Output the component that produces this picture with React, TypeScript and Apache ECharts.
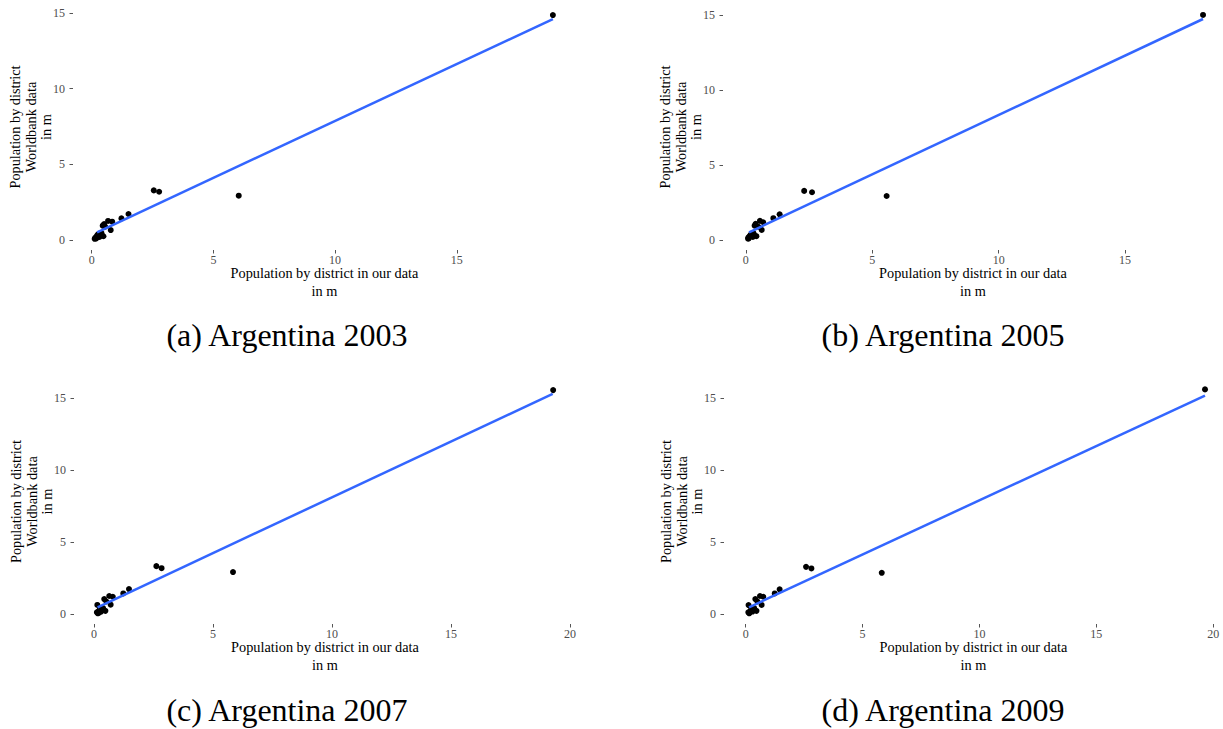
import React, { useEffect, useRef } from "react";
import * as echarts from "echarts";

// ---- data (millions) ----
const xA = [18.95, 6.04, 2.55, 2.77, 1.51, 1.22, 0.84, 0.67, 0.51, 0.78, 0.55, 0.45, 0.40, 0.33, 0.30, 0.48, 0.25, 0.22, 0.26, 0.19, 0.15, 0.32, 0.36, 0.12];
const yA = [14.87, 2.93, 3.28, 3.19, 1.72, 1.43, 1.21, 1.26, 1.06, 0.66, 0.88, 0.95, 0.45, 0.30, 0.42, 0.25, 0.35, 0.30, 0.22, 0.11, 0.16, 0.20, 0.38, 0.08];
const xB = [18.08, 5.57, 2.31, 2.62, 1.34, 1.09, 0.69, 0.56, 0.39, 0.63, 0.50, 0.35, 0.30, 0.27, 0.24, 0.42, 0.20, 0.18, 0.14, 0.12, 0.10, 0.28, 0.32, 0.09];
const yB = [15.0, 2.93, 3.27, 3.18, 1.71, 1.45, 1.18, 1.27, 1.07, 0.67, 0.88, 0.95, 0.45, 0.30, 0.42, 0.25, 0.35, 0.30, 0.22, 0.11, 0.16, 0.20, 0.38, 0.08];
const xC = [19.29, 5.84, 2.62, 2.84, 1.47, 1.23, 0.79, 0.64, 0.43, 0.70, 0.14, 0.52, 0.38, 0.33, 0.28, 0.48, 0.24, 0.22, 0.26, 0.18, 0.16, 0.30, 0.36, 0.12];
const yC = [15.55, 2.94, 3.35, 3.21, 1.76, 1.46, 1.23, 1.28, 1.07, 0.68, 0.66, 0.90, 0.45, 0.30, 0.42, 0.25, 0.35, 0.13, 0.25, 0.20, 0.08, 0.20, 0.38, 0.15];
const xD = [19.65, 5.82, 2.58, 2.81, 1.45, 1.24, 0.75, 0.61, 0.41, 0.68, 0.12, 0.50, 0.36, 0.32, 0.27, 0.46, 0.23, 0.17, 0.25, 0.18, 0.15, 0.29, 0.35, 0.11];
const yD = [15.6, 2.89, 3.30, 3.19, 1.74, 1.46, 1.23, 1.28, 1.07, 0.66, 0.65, 0.90, 0.45, 0.30, 0.42, 0.25, 0.35, 0.13, 0.25, 0.20, 0.08, 0.20, 0.38, 0.15];

// fitted (lm) line endpoints
const fitA = [[0.22, 0.51], [18.95, 14.6]];
const fitB = [[0.13, 0.51], [18.08, 14.73]];
const fitC = [[0.15, 0.5], [19.27, 15.29]];
const fitD = [[0.14, 0.5], [19.65, 15.17]];

const ticksX1 = [0, 5, 10, 15];
const ticksX2 = [0, 5, 10, 15, 20];
const ticksY = [0, 5, 10, 15];

const captions = ["(a) Argentina 2003", "(b) Argentina 2005", "(c) Argentina 2007", "(d) Argentina 2009"];
const xTitle = "Population by district in our data\nin m";
const yTitle = "Population by district\nWorldbank data\nin m";

const SERIF = "'Liberation Serif', 'Times New Roman', serif";

const panels = [
  { xs: xA, ys: yA, fit: fitA, xt: ticksX1, grid: { left: 73, top: 4, width: 503, height: 246 }, xr: [-0.77, 19.9], yr: [-0.66, 15.6], cap: [287, 335] },
  { xs: xB, ys: yB, fit: fitB, xt: ticksX1, grid: { left: 723, top: 4, width: 500, height: 246 }, xr: [-0.9, 18.87], yr: [-0.67, 15.73], cap: [943, 335] },
  { xs: xC, ys: yC, fit: fitC, xt: ticksX2, grid: { left: 74, top: 379, width: 502, height: 245 }, xr: [-0.84, 20.25], yr: [-0.66, 16.32], cap: [287, 710] },
  { xs: xD, ys: yD, fit: fitD, xt: ticksX2, grid: { left: 724, top: 379, width: 499, height: 245 }, xr: [-0.93, 20.42], yr: [-0.66, 16.32], cap: [943, 710] },
];

export default function App() {
  const ref = useRef<HTMLDivElement>(null);
  useEffect(() => {
    if (!ref.current) return;
    const chart = echarts.init(ref.current, undefined, { renderer: "svg" });
    const tickStyle = { color: "#4D4D4D", fontFamily: SERIF, fontSize: 12 };
    const nameStyle = { color: "#000", fontFamily: SERIF, fontSize: 14.3, lineHeight: 15.5 };
    const option: any = {
      animation: false,
      backgroundColor: "#fff",
      grid: panels.map((p) => ({ ...p.grid, containLabel: false })),
      xAxis: panels.map((p, i) => ({
        gridIndex: i,
        type: "value",
        min: p.xr[0],
        max: p.xr[1],
        axisLine: { show: false, onZero: false },
        axisTick: { show: true, length: 3.5, lineStyle: { color: "#555", width: 1 }, customValues: p.xt },
        axisLabel: { ...tickStyle, margin: 4, customValues: p.xt },
        splitLine: { show: false },
        name: xTitle,
        nameLocation: "middle",
        nameGap: 14,
        nameMoveOverlap: false,
        nameTextStyle: { ...nameStyle, lineHeight: 18 },
      })),
      yAxis: panels.map((p, i) => ({
        gridIndex: i,
        type: "value",
        min: p.yr[0],
        max: p.yr[1],
        axisLine: { show: false, onZero: false },
        axisTick: { show: true, length: 3.5, lineStyle: { color: "#555", width: 1 }, customValues: ticksY },
        axisLabel: { ...tickStyle, margin: 8, customValues: ticksY },
        splitLine: { show: false },
        name: yTitle,
        nameLocation: "middle",
        nameRotate: 90,
        nameGap: 19,
        nameMoveOverlap: false,
        nameTextStyle: nameStyle,
      })),
      series: panels.flatMap((p, i) => [
        {
          type: "scatter",
          xAxisIndex: i,
          yAxisIndex: i,
          data: p.xs.map((x, k) => [x, p.ys[k]]),
          symbol: "circle",
          symbolSize: 6,
          itemStyle: { color: "#000", opacity: 1 },
          z: 2,
        },
        {
          type: "line",
          xAxisIndex: i,
          yAxisIndex: i,
          data: p.fit,
          showSymbol: false,
          symbol: "none",
          lineStyle: { color: "#3366FF", width: 2.5 },
          z: 3,
        },
      ]),
      graphic: panels.map((p, i) => ({
        type: "text",
        x: p.cap[0],
        y: p.cap[1],
        style: {
          text: captions[i],
          fill: "#000",
          font: `32px ${SERIF}`,
          textAlign: "center",
          textVerticalAlign: "middle",
        },
      })),
    };
    chart.setOption(option);
    return () => chart.dispose();
  }, []);
  return (
    <div
      ref={ref}
      style={{ position: "fixed", left: 0, top: 0, width: 1223, height: 729, background: "#fff" }}
    />
  );
}
